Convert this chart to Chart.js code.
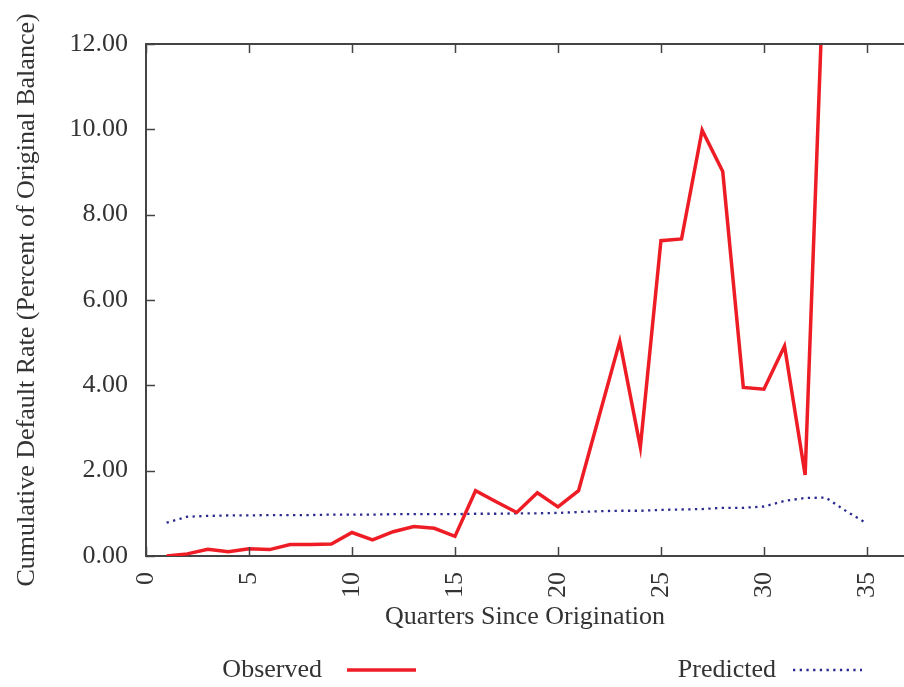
<!DOCTYPE html>
<html>
<head>
<meta charset="utf-8">
<script src="https://cdn.jsdelivr.net/npm/chart.js@4/dist/chart.umd.min.js"></script>
<style>
  html, body { margin: 0; padding: 0; background: #fff; }
  #wrap { width: 904px; height: 687px; }
</style>
</head>
<body>
<div id="wrap"><canvas id="chart" width="904" height="687"></canvas></div>
<script>
// Quarters since origination (x values)
const quarters = [1, 2, 3, 4, 5, 6, 7, 8, 9, 10, 11, 12, 13, 14, 15, 16, 17, 18,
  19, 20, 21, 22, 23, 24, 25, 26, 27, 28, 29, 30, 31, 32, 33, 34, 35];

// Observed cumulative default rate, % of original balance (quarters 1-33)
const observedRate = [0.00, 0.05, 0.16, 0.10, 0.17, 0.15, 0.27, 0.27, 0.28, 0.55,
  0.38, 0.57, 0.69, 0.65, 0.46, 1.53, 1.27, 1.02, 1.48, 1.15, 1.53, 3.28, 5.03,
  2.55, 7.39, 7.43, 9.98, 9.01, 3.95, 3.91, 4.92, 1.90, 15.1];

// Model-predicted cumulative default rate (quarters 1-35)
const predictedRate = [0.78, 0.92, 0.94, 0.95, 0.95, 0.96, 0.96, 0.96, 0.97, 0.97,
  0.97, 0.98, 0.98, 0.98, 0.98, 0.99, 0.99, 1.00, 1.00, 1.01, 1.03, 1.05, 1.06,
  1.06, 1.08, 1.09, 1.10, 1.13, 1.13, 1.16, 1.29, 1.36, 1.37, 1.05, 0.76];

const xTicks = [0, 5, 10, 15, 20, 25, 30, 35];
const yTicks = [0, 2, 4, 6, 8, 10, 12];

const seriesNames = ['Observed', 'Predicted'];
const FONT = '"Liberation Serif", "Times New Roman", serif';
const TEXT = '#333333';
const AXIS = '#444444';

const toPoints = (vals) => vals.map((v, i) => ({ x: quarters[i], y: v }));

// Inward tick marks on the bottom, top and left edges plus the top frame line
const framePlugin = {
  id: 'frame',
  afterDatasetsDraw(chart) {
    const { ctx, chartArea: a, scales: { x, y } } = chart;
    ctx.save();
    ctx.strokeStyle = AXIS;
    ctx.lineWidth = 2;
    ctx.beginPath();
    ctx.moveTo(a.left, a.top);
    ctx.lineTo(a.right, a.top);
    ctx.stroke();
    ctx.lineWidth = 1.5;
    const len = 9;
    ctx.beginPath();
    xTicks.forEach(v => {
      const px = Math.round(x.getPixelForValue(v)) + 0.5;
      ctx.moveTo(px, a.bottom);
      ctx.lineTo(px, a.bottom - len);
      ctx.moveTo(px, a.top);
      ctx.lineTo(px, a.top + len);
    });
    yTicks.forEach(v => {
      const py = Math.round(y.getPixelForValue(v)) + 0.5;
      ctx.moveTo(a.left, py);
      ctx.lineTo(a.left + len, py);
    });
    ctx.stroke();
    ctx.restore();
  }
};

// Legend below the axis title: label text followed by a sample of the line
const legendPlugin = {
  id: 'sampleLegend',
  afterDraw(chart) {
    const { ctx } = chart;
    const rowY = 670;
    const entries = [
      { ds: chart.data.datasets[0], textRight: 322, x0: 347, x1: 416 },
      { ds: chart.data.datasets[1], textRight: 776, x0: 793, x1: 862 }
    ];
    ctx.save();
    ctx.font = '26px ' + FONT;
    ctx.fillStyle = TEXT;
    ctx.textAlign = 'right';
    ctx.textBaseline = 'middle';
    entries.forEach(e => {
      ctx.fillText(e.ds.label, e.textRight, rowY);
      ctx.strokeStyle = e.ds.borderColor;
      ctx.lineWidth = e.ds.borderWidth;
      ctx.setLineDash(e.ds.borderDash || []);
      ctx.beginPath();
      ctx.moveTo(e.x0, rowY);
      ctx.lineTo(e.x1, rowY);
      ctx.stroke();
    });
    ctx.restore();
  }
};

new Chart(document.getElementById('chart'), {
  type: 'line',
  data: {
    datasets: [
      {
        label: seriesNames[0],
        data: toPoints(observedRate),
        borderColor: '#ee1d25',
        borderWidth: 3.5,
        pointRadius: 0,
        tension: 0,
        fill: false
      },
      {
        label: seriesNames[1],
        data: toPoints(predictedRate),
        borderColor: '#2a2a90',
        borderWidth: 2.3,
        borderDash: [2.3, 4.4],
        pointRadius: 0,
        tension: 0,
        fill: false
      }
    ]
  },
  options: {
    responsive: false,
    animation: false,
    devicePixelRatio: 1,
    layout: { padding: { top: 44, right: 0, bottom: 47, left: 0 } },
    plugins: { legend: { display: false }, tooltip: { enabled: false } },
    scales: {
      x: {
        type: 'linear',
        min: 0,
        max: 36.8,
        grid: { display: false, drawTicks: false },
        border: { display: true, color: AXIS, width: 2 },
        afterBuildTicks: (s) => { s.ticks = xTicks.map(v => ({ value: v })); },
        afterFit: (s) => { s.height = 84; s.paddingLeft = 0; s.paddingRight = 0; },
        ticks: {
          minRotation: 90,
          maxRotation: 90,
          padding: 16,
          color: TEXT,
          font: { family: FONT, size: 26 }
        },
        title: {
          display: true,
          text: 'Quarters Since Origination',
          color: TEXT,
          font: { family: FONT, size: 26 },
          padding: { top: 0, bottom: 7 }
        }
      },
      y: {
        min: 0,
        max: 12,
        grid: { display: false, drawTicks: false },
        border: { display: true, color: AXIS, width: 2 },
        afterBuildTicks: (s) => { s.ticks = yTicks.map(v => ({ value: v })); },
        afterFit: (s) => { s.width = 146; s.paddingTop = 0; s.paddingBottom = 0; },
        ticks: {
          padding: 18,
          color: TEXT,
          font: { family: FONT, size: 26 },
          callback: (v) => Number(v).toFixed(2)
        },
        title: {
          display: true,
          text: 'Cumulative Default Rate (Percent of Original Balance)',
          color: TEXT,
          font: { family: FONT, size: 26 },
          padding: { top: 12, bottom: 0 }
        }
      }
    }
  },
  plugins: [framePlugin, legendPlugin]
});
</script>
</body>
</html>
